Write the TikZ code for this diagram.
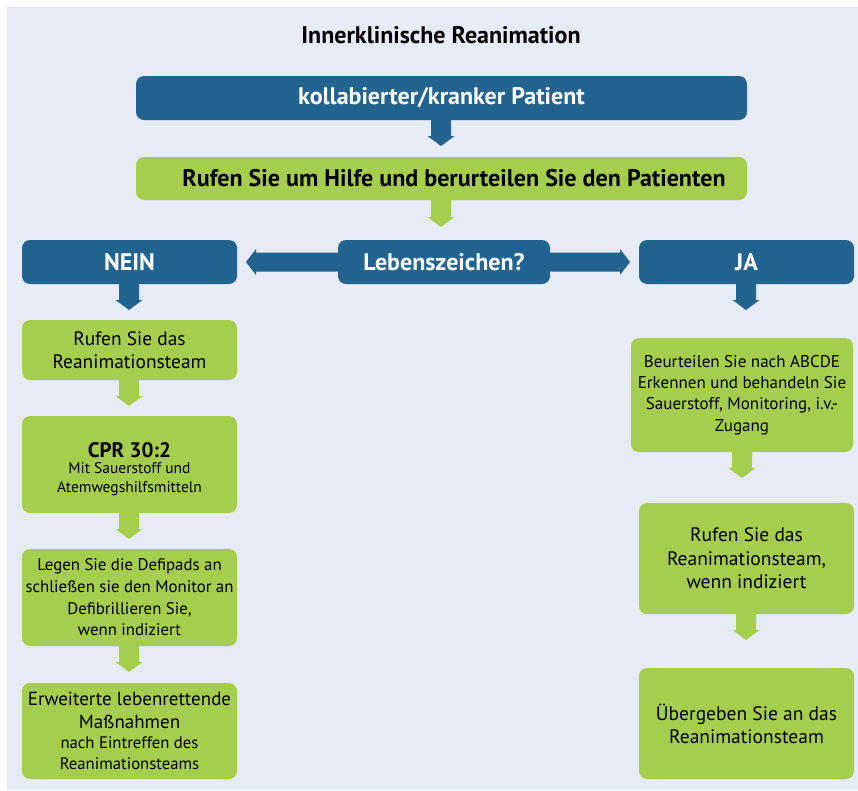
\documentclass[tikz,border=0pt]{standalone}
\usepackage{fontspec}
\setmainfont{PT Sans}
\usetikzlibrary{calc}
\definecolor{bgc}{HTML}{E6EBF6}
\definecolor{bluec}{HTML}{22638F}
\definecolor{greenc}{HTML}{A6CE4E}
\newcommand\arrdown[3]{\fill[#1] let \p1=(#2), \p2=(#3) in (\x2-10pt,\y1) -- (\x2+10pt,\y1) -- (\x2+10pt,\y2+10pt) -- (\x2+13.5pt,\y2+10pt) -- (\x2,\y2) -- (\x2-13.5pt,\y2+10pt) -- (\x2-10pt,\y2+10pt) -- cycle;}
\newcommand\arrleft[3]{\fill[#1] let \p1=(#2), \p2=(#3) in (\x1,\y2+9.5pt) -- (\x2+10pt,\y2+9.5pt) -- (\x2+10pt,\y2+13pt) -- (\x2,\y2) -- (\x2+10pt,\y2-13pt) -- (\x2+10pt,\y2-9.5pt) -- (\x1,\y2-9.5pt) -- cycle;}
\newcommand\arrright[3]{\fill[#1] let \p1=(#2), \p2=(#3) in (\x1,\y2+9.5pt) -- (\x2-10pt,\y2+9.5pt) -- (\x2-10pt,\y2+13pt) -- (\x2,\y2) -- (\x2-10pt,\y2-13pt) -- (\x2-10pt,\y2-9.5pt) -- (\x1,\y2-9.5pt) -- cycle;}
\tikzset{
  box/.style={rectangle, rounded corners=8pt, inner sep=0pt, align=center},
  bluebox/.style={box, fill=bluec, text=white, font=\fontsize{24}{28}\selectfont\bfseries},
  greenbox/.style={box, fill=greenc, text=black},
}
\begin{document}
\begin{tikzpicture}[x=1pt,y=-1pt]
\useasboundingbox (0,0) rectangle (858,790);
\fill[bgc] (7,7) rectangle (858,790);
\node[font=\fontsize{24}{28}\selectfont\bfseries] (title) at (441,35) {Innerklinische Reanimation};
\node[bluebox, minimum width=611pt, minimum height=44pt] (b1) at (441.5,98) {kollabierter/kranker Patient};
\node[greenbox, minimum width=611pt, minimum height=43pt, font=\fontsize{24}{28}\selectfont\bfseries] (b2) at (441.5,178.5) {\hspace*{25pt}Rufen Sie um Hilfe und berurteilen Sie den Patienten};
\node[bluebox, minimum width=212pt, minimum height=44pt] (leb) at (444,262) {Lebenszeichen?};
\node[bluebox, minimum width=215pt, minimum height=44pt] (nein) at (129.5,262) {NEIN};
\node[bluebox, minimum width=215pt, minimum height=44pt] (ja) at (746.5,262) {JA};
\node[greenbox, minimum width=215pt, minimum height=60pt, font=\fontsize{19.4}{23}\selectfont] (l1) at (129.5,350) {Rufen Sie das\\Reanimationsteam};
\node[greenbox, minimum width=215pt, minimum height=97pt, font=\fontsize{15.5}{19.5}\selectfont] (l2) at (129.5,464.5) {{\fontsize{21}{24}\selectfont\bfseries\rule{0pt}{25pt}CPR 30:2}\\[-4pt]Mit Sauerstoff und\\Atemwegshilfsmitteln};
\node[greenbox, minimum width=215pt, minimum height=97pt, font=\fontsize{16.8}{21.7}\selectfont] (l3) at (129.5,597.5) {Legen Sie die Defipads an\\schließen sie den Monitor an\\Defibrillieren Sie,\\wenn indiziert};
\node[greenbox, minimum width=215pt, minimum height=96pt, font=\fontsize{16.7}{21}\selectfont] (l4) at (129.5,731) {{\fontsize{19}{23}\selectfont Erweiterte lebenrettende}\\[2pt]{\fontsize{19}{23}\selectfont Maßnahmen}\\[-1pt]nach Eintreffen des\\Reanimationsteams};
\node[greenbox, minimum width=222pt, minimum height=114pt, font=\fontsize{17}{21.3}\selectfont] (r1) at (742,395) {Beurteilen Sie nach ABCDE\\Erkennen und behandeln Sie\\Sauerstoff, Monitoring, i.v.-\\Zugang};
\node[greenbox, minimum width=215pt, minimum height=111pt, font=\fontsize{19.5}{23.5}\selectfont] (r2) at (746.5,558.5) {Rufen Sie das\\Reanimationsteam,\\wenn indiziert};
\node[greenbox, minimum width=215pt, minimum height=111pt, font=\fontsize{19.5}{23}\selectfont] (r3) at (746.5,723.5) {Übergeben Sie an das\\Reanimationsteam};
% arrow tips
\coordinate (t1) at (441,146);
\coordinate (t2) at (441,227);
\coordinate (tl) at (246,262);
\coordinate (tr) at (630,262);
\coordinate (tn) at (129,310);
\coordinate (tj) at (746,310);
\coordinate (tl1) at (129,406);
\coordinate (tl2) at (129,539);
\coordinate (tl3) at (129,672);
\coordinate (tr1) at (742,478);
\coordinate (tr2) at (746,640);
\arrdown{bluec}{b1.south}{t1}
\arrdown{greenc}{b2.south}{t2}
\arrleft{bluec}{leb.west}{tl}
\arrright{bluec}{leb.east}{tr}
\arrdown{bluec}{nein.south}{tn}
\arrdown{bluec}{ja.south}{tj}
\arrdown{greenc}{l1.south}{tl1}
\arrdown{greenc}{l2.south}{tl2}
\arrdown{greenc}{l3.south}{tl3}
\arrdown{greenc}{r1.south}{tr1}
\arrdown{greenc}{r2.south}{tr2}
\end{tikzpicture}
\end{document}
